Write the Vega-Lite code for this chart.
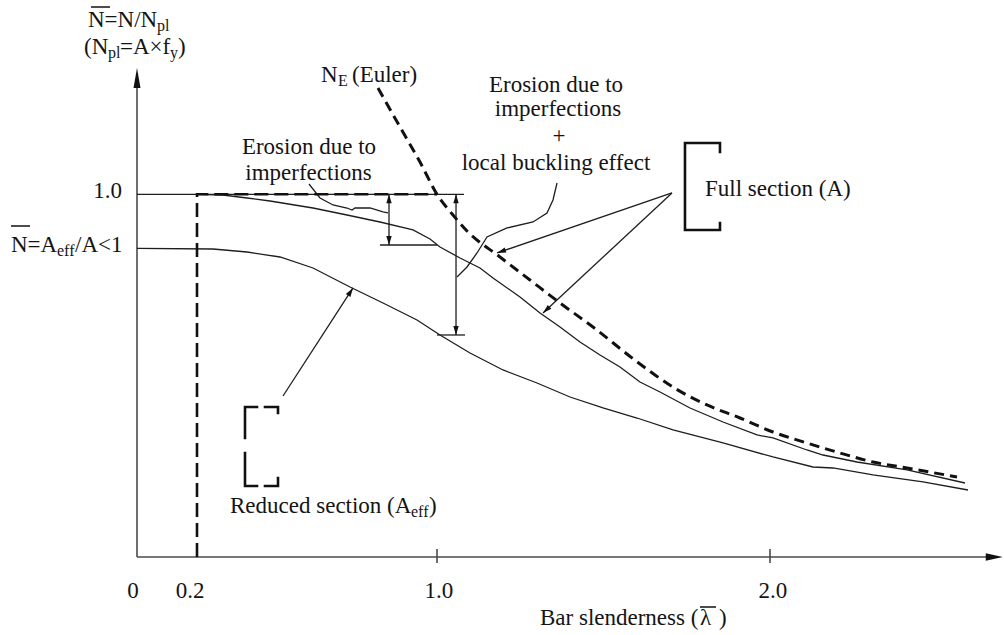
{
  "$schema": "https://vega.github.io/schema/vega-lite/v6.json",
  "width": 1004,
  "height": 635,
  "padding": 0,
  "autosize": {"type": "none"},
  "background": "white",
  "config": {"view": {"stroke": null}},
  "datasets": {
    "thin": [
      {"id": "full", "o": 1, "x": 0.2, "y": 1},
      {"id": "full", "o": 2, "x": 0.2867, "y": 0.9981},
      {"id": "full", "o": 3, "x": 0.3667, "y": 0.9898},
      {"id": "full", "o": 4, "x": 0.4433, "y": 0.9815},
      {"id": "full", "o": 5, "x": 0.5867, "y": 0.9622},
      {"id": "full", "o": 6, "x": 0.7, "y": 0.9429},
      {"id": "full", "o": 7, "x": 0.81, "y": 0.9236},
      {"id": "full", "o": 8, "x": 0.92, "y": 0.9016},
      {"id": "full", "o": 9, "x": 0.9767, "y": 0.8768},
      {"id": "full", "o": 10, "x": 1.009, "y": 0.8547},
      {"id": "full", "o": 11, "x": 1.0691, "y": 0.8244},
      {"id": "full", "o": 12, "x": 1.1291, "y": 0.7968},
      {"id": "full", "o": 13, "x": 1.1682, "y": 0.7692},
      {"id": "full", "o": 14, "x": 1.2492, "y": 0.7169},
      {"id": "full", "o": 15, "x": 1.3093, "y": 0.6727},
      {"id": "full", "o": 16, "x": 1.3694, "y": 0.6341},
      {"id": "full", "o": 17, "x": 1.4294, "y": 0.5928},
      {"id": "full", "o": 18, "x": 1.4895, "y": 0.5569},
      {"id": "full", "o": 19, "x": 1.5495, "y": 0.5239},
      {"id": "full", "o": 20, "x": 1.6096, "y": 0.4825},
      {"id": "full", "o": 21, "x": 1.6697, "y": 0.4549},
      {"id": "full", "o": 22, "x": 1.7598, "y": 0.4108},
      {"id": "full", "o": 23, "x": 1.8589, "y": 0.3722},
      {"id": "full", "o": 24, "x": 1.961, "y": 0.3364},
      {"id": "full", "o": 25, "x": 2.009, "y": 0.3281},
      {"id": "full", "o": 26, "x": 2.1111, "y": 0.295},
      {"id": "full", "o": 27, "x": 2.1592, "y": 0.2812},
      {"id": "full", "o": 28, "x": 2.2613, "y": 0.2619},
      {"id": "full", "o": 29, "x": 2.4114, "y": 0.2399},
      {"id": "full", "o": 30, "x": 2.5856, "y": 0.204},
      {"id": "red", "o": 1, "x": 0, "y": 0.8511},
      {"id": "red", "o": 2, "x": 0.2533, "y": 0.8492},
      {"id": "red", "o": 3, "x": 0.3667, "y": 0.8409},
      {"id": "red", "o": 4, "x": 0.4767, "y": 0.8271},
      {"id": "red", "o": 5, "x": 0.5867, "y": 0.7968},
      {"id": "red", "o": 6, "x": 0.71, "y": 0.7444},
      {"id": "red", "o": 7, "x": 0.82, "y": 0.7003},
      {"id": "red", "o": 8, "x": 0.9333, "y": 0.6534},
      {"id": "red", "o": 9, "x": 1.009, "y": 0.6121},
      {"id": "red", "o": 10, "x": 1.0991, "y": 0.5625},
      {"id": "red", "o": 11, "x": 1.1982, "y": 0.5156},
      {"id": "red", "o": 12, "x": 1.3003, "y": 0.4797},
      {"id": "red", "o": 13, "x": 1.3994, "y": 0.4411},
      {"id": "red", "o": 14, "x": 1.4985, "y": 0.4108},
      {"id": "red", "o": 15, "x": 1.6006, "y": 0.3832},
      {"id": "red", "o": 16, "x": 1.7087, "y": 0.3502},
      {"id": "red", "o": 17, "x": 1.8589, "y": 0.3143},
      {"id": "red", "o": 18, "x": 2.009, "y": 0.2757},
      {"id": "red", "o": 19, "x": 2.1291, "y": 0.2481},
      {"id": "red", "o": 20, "x": 2.1892, "y": 0.2454},
      {"id": "red", "o": 21, "x": 2.3093, "y": 0.2261},
      {"id": "red", "o": 22, "x": 2.4595, "y": 0.2068},
      {"id": "red", "o": 23, "x": 2.5946, "y": 0.1847},
      {"id": "h1", "o": 1, "x": 0, "y": 1},
      {"id": "h1", "o": 2, "x": 1.0811, "y": 1},
      {"id": "dimS", "o": 1, "x": 0.84, "y": 1},
      {"id": "dimS", "o": 2, "x": 0.84, "y": 0.8602},
      {"id": "extS", "o": 1, "x": 0.81, "y": 0.8602},
      {"id": "extS", "o": 2, "x": 1.0, "y": 0.8602},
      {"id": "dimL", "o": 1, "x": 1.0571, "y": 1},
      {"id": "dimL", "o": 2, "x": 1.0571, "y": 0.6121},
      {"id": "extL", "o": 1, "x": 1.0, "y": 0.6121},
      {"id": "extL", "o": 2, "x": 1.0841, "y": 0.6121},
      {"id": "lead1", "o": 1, "x": 0.5733, "y": 1.0284},
      {"id": "lead1", "o": 2, "x": 0.61, "y": 0.9898},
      {"id": "lead1", "o": 3, "x": 0.6533, "y": 0.9705},
      {"id": "lead1", "o": 4, "x": 0.7, "y": 0.9622},
      {"id": "lead1", "o": 5, "x": 0.7167, "y": 0.9567},
      {"id": "lead1", "o": 6, "x": 0.7267, "y": 0.9622},
      {"id": "lead1", "o": 7, "x": 0.7767, "y": 0.9622},
      {"id": "lead1", "o": 8, "x": 0.82, "y": 0.9512},
      {"id": "lead1", "o": 9, "x": 0.8367, "y": 0.9485},
      {"id": "lead2", "o": 1, "x": 1.3604, "y": 1.0312},
      {"id": "lead2", "o": 2, "x": 1.3483, "y": 0.9843},
      {"id": "lead2", "o": 3, "x": 1.3303, "y": 0.9485},
      {"id": "lead2", "o": 4, "x": 1.2883, "y": 0.9236},
      {"id": "lead2", "o": 5, "x": 1.2102, "y": 0.9071},
      {"id": "lead2", "o": 6, "x": 1.1502, "y": 0.8823},
      {"id": "lead2", "o": 7, "x": 1.1201, "y": 0.8382},
      {"id": "lead2", "o": 8, "x": 1.0901, "y": 0.7996},
      {"id": "lead2", "o": 9, "x": 1.0601, "y": 0.772},
      {"id": "lead3", "o": 1, "x": 0.4867, "y": 0.4439},
      {"id": "lead3", "o": 2, "x": 0.72, "y": 0.7417},
      {"id": "arr1", "o": 1, "x": 1.7057, "y": 1.0036},
      {"id": "arr1", "o": 2, "x": 1.1802, "y": 0.8382},
      {"id": "arr2", "o": 1, "x": 1.7057, "y": 1.0036},
      {"id": "arr2", "o": 2, "x": 1.3183, "y": 0.6727}
    ],
    "euler": [
      {"x": 0.8033, "y": 1.2931}, {"x": 0.8767, "y": 1.1856}, {"x": 0.9433, "y": 1.0891},
      {"x": 1.0, "y": 1.0}, {"x": 1.048, "y": 0.9429}, {"x": 1.0901, "y": 0.8988},
      {"x": 1.1892, "y": 0.8271}, {"x": 1.2793, "y": 0.7637}, {"x": 1.3694, "y": 0.7003},
      {"x": 1.4685, "y": 0.6341}, {"x": 1.5976, "y": 0.5404}, {"x": 1.7177, "y": 0.4632},
      {"x": 1.8108, "y": 0.4191}, {"x": 1.9099, "y": 0.3832}, {"x": 2.009, "y": 0.3446},
      {"x": 2.1111, "y": 0.3143}, {"x": 2.2102, "y": 0.2867}, {"x": 2.3093, "y": 0.2619},
      {"x": 2.4114, "y": 0.2454}, {"x": 2.5616, "y": 0.2206}
    ],
    "plastic": [
      {"o": 1, "x": 0.2, "y": 0},
      {"o": 2, "x": 0.2, "y": 1},
      {"o": 3, "x": 1.0, "y": 1}
    ],
    "brackets": [
      {"id": "fa", "o": 1, "x": 1.8498, "y": 1.1166},
      {"id": "fa", "o": 2, "x": 1.8498, "y": 1.1415},
      {"id": "fa", "o": 3, "x": 1.7447, "y": 1.1415},
      {"id": "fa", "o": 4, "x": 1.7447, "y": 0.9016},
      {"id": "fa", "o": 5, "x": 1.8498, "y": 0.9016},
      {"id": "fa", "o": 6, "x": 1.8498, "y": 0.9209},
      {"id": "r1", "o": 1, "x": 0.4, "y": 0.4136},
      {"id": "r1", "o": 2, "x": 0.36, "y": 0.4136},
      {"id": "r1", "o": 3, "x": 0.36, "y": 0.3281},
      {"id": "r2", "o": 1, "x": 0.36, "y": 0.2867},
      {"id": "r2", "o": 2, "x": 0.36, "y": 0.1958},
      {"id": "r2", "o": 3, "x": 0.4, "y": 0.1958},
      {"id": "r3", "o": 1, "x": 0.4267, "y": 0.4136},
      {"id": "r3", "o": 2, "x": 0.47, "y": 0.4136},
      {"id": "r3", "o": 3, "x": 0.47, "y": 0.397},
      {"id": "r4", "o": 1, "x": 0.4267, "y": 0.1958},
      {"id": "r4", "o": 2, "x": 0.47, "y": 0.1958},
      {"id": "r4", "o": 3, "x": 0.47, "y": 0.2178}
    ],
    "axes": [
      {"x": 0, "y": 0, "x2": 0, "y2": 1.30},
      {"x": 0, "y": 0, "x2": 2.66, "y2": 0},
      {"x": 1, "y": -0.0165, "x2": 1, "y2": 0.0221},
      {"x": 2, "y": -0.0165, "x2": 2, "y2": 0.0221}
    ],
    "overlines": [
      {"x": -0.1533, "y": 1.5164, "x2": -0.09, "y2": 1.5164},
      {"x": -0.42, "y": 0.9126, "x2": -0.3567, "y2": 0.9126},
      {"x": 1.7898, "y": -0.1379, "x2": 1.8378, "y2": -0.1379}
    ],
    "arrows": [
      {"x": 0, "y": 1.3482, "dir": "axisUp"},
      {"x": 2.699, "y": 0, "dir": "axisRight"},
      {"x": 0.84, "y": 1, "dir": "up"},
      {"x": 0.84, "y": 0.8602, "dir": "down"},
      {"x": 1.0571, "y": 1, "dir": "up"},
      {"x": 1.0571, "y": 0.6121, "dir": "down"},
      {"x": 0.72, "y": 0.7417, "dir": "reduced"},
      {"x": 1.1802, "y": 0.8382, "dir": "full1"},
      {"x": 1.3183, "y": 0.6727, "dir": "full2"}
    ],
    "textCenter": [
      {"x": 1.3574, "y": 1.3014, "t": "Erosion due to"},
      {"x": 1.3634, "y": 1.2352, "t": "imperfections"},
      {"x": 1.3664, "y": 1.1607, "t": "+"},
      {"x": 1.3574, "y": 1.0863, "t": "local buckling effect"},
      {"x": 0.5733, "y": 1.1304, "t": "Erosion due to"},
      {"x": 0.5717, "y": 1.0587, "t": "imperfections"},
      {"x": -0.0133, "y": -0.0937, "t": "0"},
      {"x": 0.1767, "y": -0.0937, "t": "0.2"},
      {"x": 1.006, "y": -0.0937, "t": "1.0"},
      {"x": 2.009, "y": -0.0937, "t": "2.0"}
    ],
    "textLeft": [
      {"x": -0.1633, "y": 1.4806, "t": "N=N/N"},
      {"x": -0.1767, "y": 1.4061, "t": "(N"},
      {"x": -0.0567, "y": 1.4061, "t": "=A×f"},
      {"x": 0.1367, "y": 1.4061, "t": ")"},
      {"x": -0.42, "y": 0.8602, "t": "N=A"},
      {"x": -0.2067, "y": 0.8602, "t": "/A<1"},
      {"x": 0.31, "y": 0.1406, "t": "Reduced section (A"},
      {"x": 0.9733, "y": 0.1406, "t": ")"},
      {"x": 0.6133, "y": 1.3289, "t": "N"},
      {"x": 0.7167, "y": 1.3289, "t": "(Euler)"},
      {"x": 1.3093, "y": -0.1682, "t": "Bar slenderness ("},
      {"x": 1.7898, "y": -0.1682, "t": "λ"},
      {"x": 1.8468, "y": -0.1682, "t": ")"},
      {"x": 1.8048, "y": 1.0146, "t": "Full section (A)"}
    ],
    "textRight": [
      {"x": -0.05, "y": 1.0091, "t": "1.0"}
    ],
    "textSub": [
      {"x": 0.0667, "y": 1.464, "t": "pl"},
      {"x": -0.0967, "y": 1.3896, "t": "pl"},
      {"x": 0.11, "y": 1.3896, "t": "y"},
      {"x": -0.2667, "y": 0.8437, "t": "eff"},
      {"x": 0.9133, "y": 0.1241, "t": "eff"},
      {"x": 0.67, "y": 1.3124, "t": "E"}
    ]
  },
  "encoding": {
    "x": {"field": "x", "type": "quantitative", "axis": null,
          "scale": {"domain": [-0.45667, 1, 2, 2.7027], "range": [0, 437, 770, 1004], "zero": false, "nice": false}},
    "y": {"field": "y", "type": "quantitative", "axis": null,
          "scale": {"domain": [-0.2151, 1.5357], "zero": false, "nice": false}}
  },
  "layer": [
    {
      "data": {"name": "axes"},
      "mark": {"type": "rule", "color": "#4a4a4a", "strokeWidth": 1.6},
      "encoding": {"x2": {"field": "x2"}, "y2": {"field": "y2"}}
    },
    {
      "data": {"name": "thin"},
      "mark": {"type": "line", "color": "#1e1e1e", "strokeWidth": 1.3, "interpolate": "linear"},
      "encoding": {"detail": {"field": "id"}, "order": {"field": "o", "type": "quantitative"}}
    },
    {
      "data": {"name": "plastic"},
      "mark": {"type": "line", "color": "#111111", "strokeWidth": 2.6, "strokeDash": [14, 6]},
      "encoding": {"order": {"field": "o", "type": "quantitative"}}
    },
    {
      "data": {"name": "euler"},
      "mark": {"type": "line", "color": "#111111", "strokeWidth": 3, "strokeDash": [10, 6], "interpolate": "monotone"},
      "encoding": {}
    },
    {
      "data": {"name": "brackets"},
      "mark": {"type": "line", "color": "#111111", "strokeWidth": 2.6, "strokeCap": "square"},
      "encoding": {"detail": {"field": "id"}, "order": {"field": "o", "type": "quantitative"}}
    },
    {
      "data": {"name": "overlines"},
      "mark": {"type": "rule", "color": "#111111", "strokeWidth": 1.5},
      "encoding": {"x2": {"field": "x2"}, "y2": {"field": "y2"}}
    },
    {
      "data": {"name": "arrows"},
      "transform": [{"filter": "datum.dir == 'axisUp'"}],
      "mark": {"type": "point", "shape": "M0,0L0.35,2L-0.35,2Z", "filled": true, "color": "#111111", "size": 400, "opacity": 1, "angle": 0}
    },
    {
      "data": {"name": "arrows"},
      "transform": [{"filter": "datum.dir == 'axisRight'"}],
      "mark": {"type": "point", "shape": "M0,0L0.45,2L-0.45,2Z", "filled": true, "color": "#111111", "size": 289, "opacity": 1, "angle": 90}
    },
    {
      "data": {"name": "arrows"},
      "transform": [{"filter": "datum.dir == 'up'"}],
      "mark": {"type": "point", "shape": "M0,0L0.6,2L-0.6,2Z", "filled": true, "color": "#111111", "size": 81, "opacity": 1, "angle": 0}
    },
    {
      "data": {"name": "arrows"},
      "transform": [{"filter": "datum.dir == 'down'"}],
      "mark": {"type": "point", "shape": "M0,0L0.6,2L-0.6,2Z", "filled": true, "color": "#111111", "size": 81, "opacity": 1, "angle": 180}
    },
    {
      "data": {"name": "arrows"},
      "transform": [{"filter": "datum.dir == 'reduced'"}],
      "mark": {"type": "point", "shape": "M0,0L0.6,2L-0.6,2Z", "filled": true, "color": "#111111", "size": 81, "opacity": 1, "angle": 33}
    },
    {
      "data": {"name": "arrows"},
      "transform": [{"filter": "datum.dir == 'full1'"}],
      "mark": {"type": "point", "shape": "M0,0L0.6,2L-0.6,2Z", "filled": true, "color": "#111111", "size": 81, "opacity": 1, "angle": 251}
    },
    {
      "data": {"name": "arrows"},
      "transform": [{"filter": "datum.dir == 'full2'"}],
      "mark": {"type": "point", "shape": "M0,0L0.6,2L-0.6,2Z", "filled": true, "color": "#111111", "size": 81, "opacity": 1, "angle": 227}
    },
    {
      "data": {"name": "textCenter"},
      "mark": {"type": "text", "font": "Liberation Serif", "fontSize": 23, "color": "#141414", "align": "center", "baseline": "middle"},
      "encoding": {"text": {"field": "t"}}
    },
    {
      "data": {"name": "textLeft"},
      "mark": {"type": "text", "font": "Liberation Serif", "fontSize": 23, "color": "#141414", "align": "left", "baseline": "middle"},
      "encoding": {"text": {"field": "t"}}
    },
    {
      "data": {"name": "textRight"},
      "mark": {"type": "text", "font": "Liberation Serif", "fontSize": 23, "color": "#141414", "align": "right", "baseline": "middle"},
      "encoding": {"text": {"field": "t"}}
    },
    {
      "data": {"name": "textSub"},
      "mark": {"type": "text", "font": "Liberation Serif", "fontSize": 16, "color": "#141414", "align": "left", "baseline": "middle"},
      "encoding": {"text": {"field": "t"}}
    }
  ]
}
